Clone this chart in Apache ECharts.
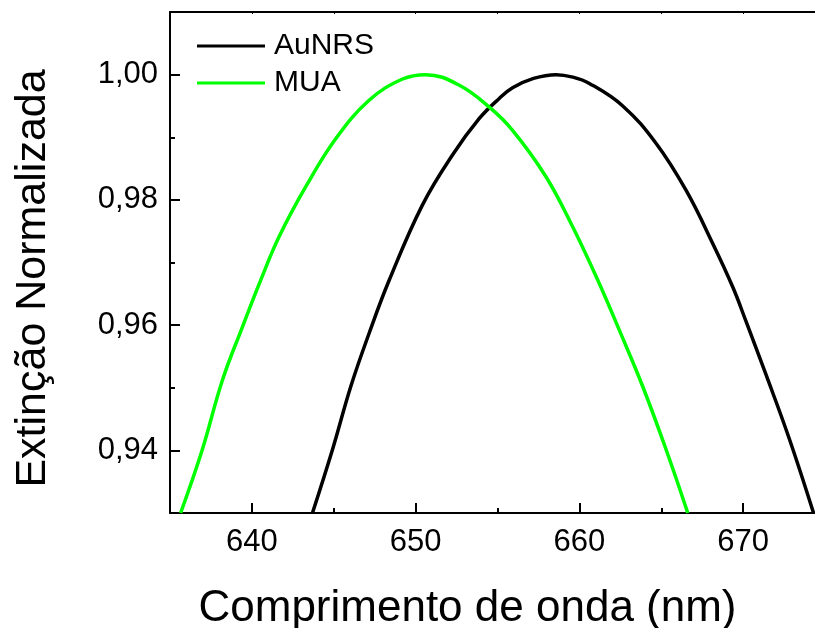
<!DOCTYPE html>
<html>
<head>
<meta charset="utf-8">
<script src="https://cdn.jsdelivr.net/npm/echarts@6/dist/echarts.min.js"></script>
<style>
html, body { margin: 0; padding: 0; background: #fff; }
#chart { width: 815px; height: 628px; }
</style>
</head>
<body>
<div id="chart"></div>
<script>
// valores (comprimento de onda nm, extinção normalizada)
let mua = [
    [635.65, 0.9300], [636.97, 0.9401], [638.20, 0.9512], [639.42, 0.9597],
    [640.54, 0.9672], [641.66, 0.9741], [643.29, 0.9821], [645.13, 0.9898],
    [647.16, 0.9959], [649.20, 0.9993], [650.63, 1.0000], [652.67, 0.9983],
    [654.50, 0.9948], [655.92, 0.9911], [657.96, 0.9837], [659.59, 0.9757],
    [661.12, 0.9672], [662.44, 0.9592], [663.87, 0.9502], [665.30, 0.9401],
    [666.62, 0.9300]
];
let aunrs = [
    [643.70, 0.9300], [644.92, 0.9401], [646.04, 0.9502], [647.16, 0.9587],
    [648.39, 0.9672], [650.42, 0.9792], [652.26, 0.9872], [653.89, 0.9930],
    [655.11, 0.9962], [655.92, 0.9979], [657.20, 0.9994], [658.58, 1.0000],
    [659.60, 0.9996], [660.61, 0.9986], [662.65, 0.9950], [664.69, 0.9890],
    [666.52, 0.9815], [668.15, 0.9730], [669.38, 0.9660], [670.19, 0.9605],
    [671.41, 0.9520], [672.84, 0.9417], [674.30, 0.9300]
];
let seriesNames = ['AuNRS', 'MUA'];
let seriesColors = ['#000000', '#00ff00'];
let xTicks = [640, 650, 660, 670];
let yTicks = [0.94, 0.96, 0.98, 1.00];

let font = '"Liberation Sans", Arial, sans-serif';

let chart = echarts.init(document.getElementById('chart'));
let option = {
    backgroundColor: '#fff',
    animation: false,
    grid: {
        left: 170,
        right: -10,
        top: 12,
        bottom: 115,
        outerBoundsMode: 'none'
    },
    legend: {
        left: 192,
        top: 26,
        orient: 'vertical',
        itemGap: 7,
        itemWidth: 68,
        itemHeight: 3,
        icon: 'rect',
        textStyle: { fontFamily: font, fontSize: 30, color: '#000', padding: [0, 0, 0, 4] },
        data: seriesNames
    },
    xAxis: [
        {
            // ticks curtos a cada 5 nm + rótulos
            type: 'value',
            min: 635,
            max: 675,
            interval: 5,
            name: 'Comprimento de onda (nm)',
            nameLocation: 'middle',
            nameGap: 74,
            nameTextStyle: { fontFamily: font, fontSize: 44, color: '#000', padding: [0, 60, 0, 0] },
            axisLine: { onZero: false, lineStyle: { color: '#000', width: 2 } },
            axisTick: { inside: true, length: 5, lineStyle: { color: '#000', width: 2 } },
            axisLabel: {
                customValues: xTicks,
                fontFamily: font, fontSize: 31, color: '#000', margin: 14
            },
            splitLine: { show: false }
        },
        {
            // ticks maiores
            type: 'value',
            position: 'bottom',
            min: 635,
            max: 675,
            axisLine: { show: false },
            axisTick: { customValues: xTicks, inside: true, length: 10, lineStyle: { color: '#000', width: 2 } },
            axisLabel: { show: false },
            splitLine: { show: false }
        },
        {
            type: 'value',
            position: 'top',
            min: 635,
            max: 675,
            interval: 5,
            axisLine: { lineStyle: { color: '#000', width: 2 } },
            axisTick: { inside: true, length: 2, lineStyle: { color: '#000', width: 1 } },
            axisLabel: { show: false },
            splitLine: { show: false }
        }
    ],
    yAxis: [
        {
            type: 'value',
            min: 0.93,
            max: 1.01,
            interval: 0.01,
            name: 'Extinção Normalizada',
            nameLocation: 'middle',
            nameGap: 115,
            nameRotate: 90,
            nameTextStyle: { fontFamily: font, fontSize: 43, color: '#000', padding: [0, 32, 0, 0] },
            axisLine: { onZero: false, lineStyle: { color: '#000', width: 2 } },
            axisTick: { inside: true, length: 5, lineStyle: { color: '#000', width: 2 } },
            axisLabel: {
                customValues: yTicks,
                fontFamily: font, fontSize: 31, color: '#000', margin: 12,
                formatter: function (v) {
                    return (Math.round(v * 100) / 100).toFixed(2).replace('.', ',');
                }
            },
            splitLine: { show: false }
        },
        {
            type: 'value',
            position: 'left',
            min: 0.93,
            max: 1.01,
            axisLine: { show: false },
            axisTick: { customValues: yTicks, inside: true, length: 10, lineStyle: { color: '#000', width: 2 } },
            axisLabel: { show: false },
            splitLine: { show: false }
        }
    ],
    series: [
        {
            name: seriesNames[0],
            type: 'line',
            smooth: 0.4,
            symbol: 'none',
            data: aunrs,
            lineStyle: { color: seriesColors[0], width: 3.5 },
            itemStyle: { color: seriesColors[0] }
        },
        {
            name: seriesNames[1],
            type: 'line',
            smooth: 0.4,
            symbol: 'none',
            data: mua,
            lineStyle: { color: seriesColors[1], width: 3.5 },
            itemStyle: { color: seriesColors[1] }
        }
    ]
};
chart.setOption(option);
</script>
</body>
</html>
